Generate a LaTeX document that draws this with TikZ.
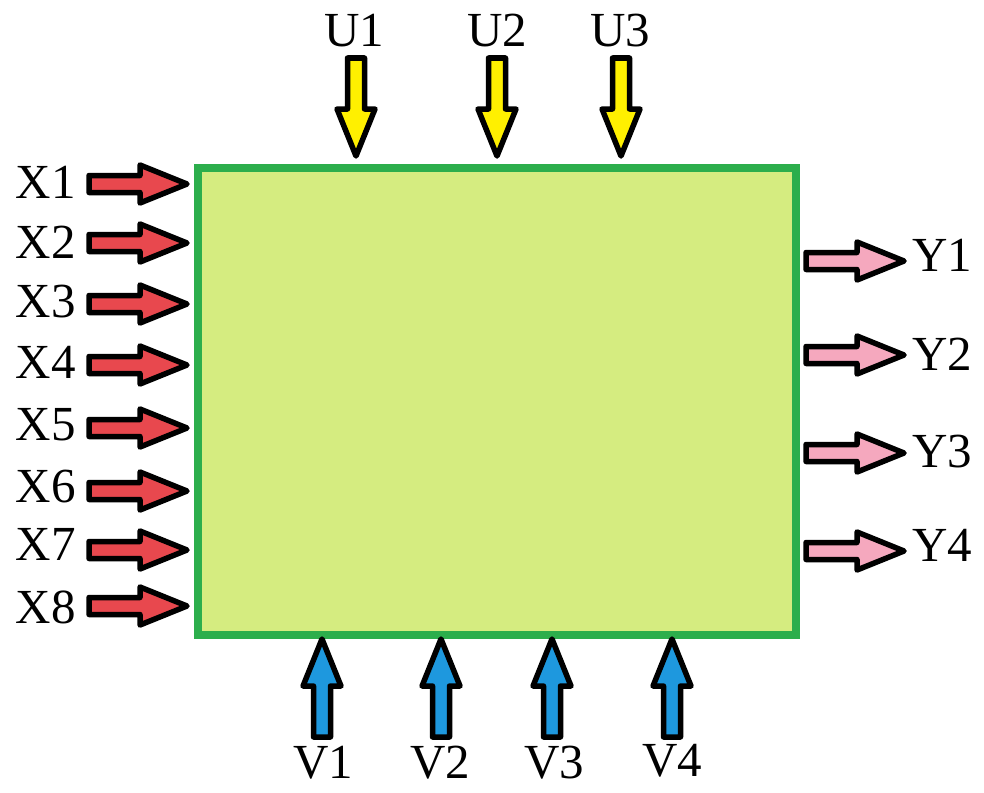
\documentclass[tikz,border=0pt]{standalone}
\usepackage{fontspec}
\setmainfont{Liberation Serif}
\definecolor{boxfill}{RGB}{213,236,128}
\definecolor{boxline}{RGB}{44,174,76}
\definecolor{xred}{RGB}{232,72,78}
\definecolor{ypink}{RGB}{245,168,190}
\definecolor{uyellow}{RGB}{255,240,0}
\definecolor{vblue}{RGB}{30,152,222}
\tikzset{
  fatarrow/.pic={\filldraw[draw=black, line width=5.5pt, line join=round]
     (0,-8.5) -- (51,-8.5) -- (51,-19) -- (98,0) -- (51,19) -- (51,8.5) -- (0,8.5) -- cycle;},
  lab/.style={inner sep=0pt, font=\fontsize{49}{50}\selectfont}
}
\begin{document}
\begin{tikzpicture}[x=1pt,y=-1pt]
\useasboundingbox (0,0) rectangle (984,792);
\node[draw=boxline, fill=boxfill, line width=7.5pt, minimum width=598pt, minimum height=467pt, inner sep=0pt, anchor=north west] (box) at (194,164) {};
% X inputs
\foreach \i/\ya/\yl in {1/184/182, 2/243/242, 3/304/302, 4/365/362, 5/428/425, 6/491/487, 7/550/544, 8/606/607}{
  \coordinate (xa\i) at (89,\ya);
  \pic[fill=xred] at (xa\i) {fatarrow};
  \node[lab, anchor=east] (X\i) at (76,\yl) {X\i};
}
% Y outputs
\foreach \i/\ya/\yl in {1/261/255, 2/355/354, 3/453/452, 4/551/545}{
  \coordinate (ya\i) at (806,\ya);
  \pic[fill=ypink] at (ya\i) {fatarrow};
  \node[lab, anchor=west] (Y\i) at (912,\yl) {Y\i};
}
% U inputs
\foreach \i/\xa/\xl in {1/356/354, 2/497/497, 3/621/620}{
  \coordinate (ua\i) at (\xa,58);
  \pic[fill=uyellow, rotate=-90] at (ua\i) {fatarrow};
  \node[lab] (U\i) at (\xl,31) {U\i};
}
% V inputs
\foreach \i/\xa/\xl/\yl in {1/322/323/763, 2/441/440/763, 3/552/554/763, 4/672/672/761}{
  \coordinate (va\i) at (\xa,737);
  \pic[fill=vblue, rotate=90] at (va\i) {fatarrow};
  \node[lab] (V\i) at (\xl,\yl) {V\i};
}
\end{tikzpicture}
\end{document}
